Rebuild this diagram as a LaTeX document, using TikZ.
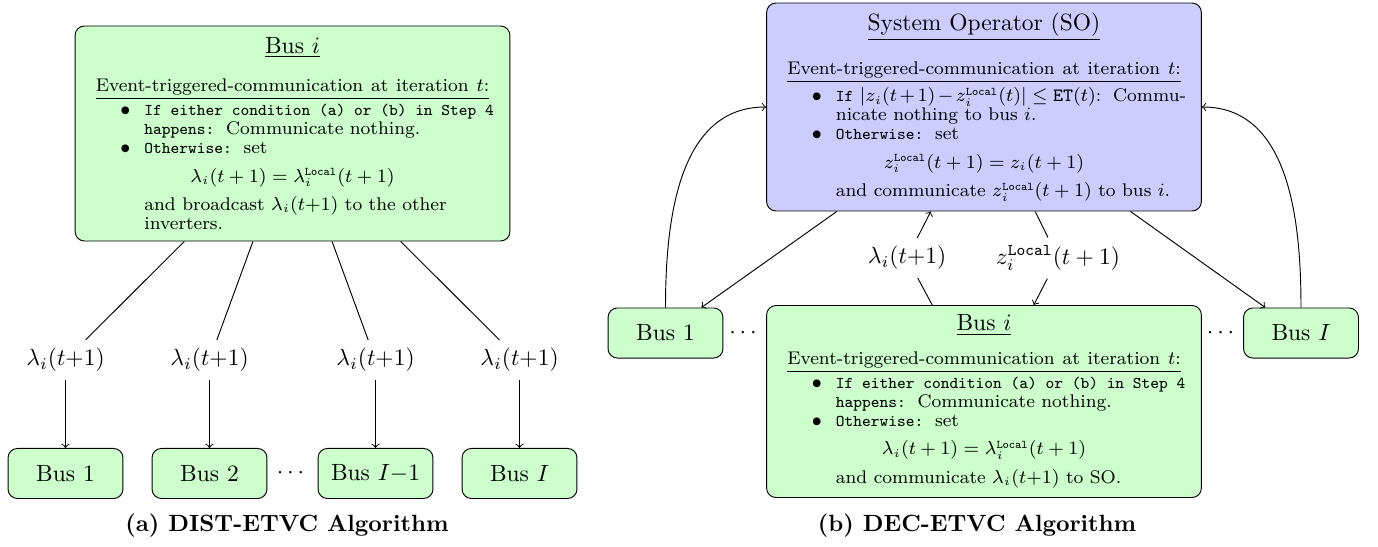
\documentclass[tikz,border=0pt]{standalone}
\usepackage{amsmath}
\usepackage{enumitem}
\usepackage{ragged2e}
\usetikzlibrary{positioning}
\newcommand{\bodyfont}{\fontsize{7.8}{8.1}\selectfont\hyphenpenalty=10000\relax}
\newcommand{\ttw}[1]{{\fontencoding{OT1}\fontfamily{cmtt}\fontsize{6.8}{8.1}\selectfont #1}}
\newcommand{\loc}{\mathtt{Local}}
\newcommand{\boxeq}[1]{\par\vspace{4pt}\noindent\makebox[\linewidth]{\hspace{-\leftmargin}$#1$}\par\vspace{4pt}}
\setlist[itemize]{label=$\bullet$,leftmargin=23pt,labelsep=6pt,itemsep=0pt,parsep=0pt,topsep=1pt,partopsep=0pt}
\tikzset{
  busbox/.style={
    rounded corners=4pt,
    draw,
    fill=green!20,
    text width=172pt,
    inner xsep=6.5pt,
    inner ysep=2pt,
    minimum width=185pt
  },
  sobox/.style={
    busbox,
    fill=blue!20
  },
  smallbus/.style={
    rounded corners=4pt,
    draw,
    fill=green!20,
    minimum width=48.9pt,
    minimum height=21.3pt
  },
  msg/.style={inner sep=3.33pt}
}
\begin{document}
\begin{tikzpicture}[x=0.4255pt,y=-0.4255pt]
\useasboundingbox (0,0) rectangle (1378,546);
\node[busbox, minimum height=91.5pt] (dbus) at (292.5,133.5) {%
  \centering\underline{Bus $i$}\par\vspace{8pt}
  \bodyfont\underline{Event-triggered-communication at iteration $t$:}\par
  \RaggedRight
  \begin{itemize}
    \item \ttw{If either condition (a) or (b) in Step 4 happens:} Communicate nothing.
    \item \ttw{Otherwise:} set
      \boxeq{\lambda_i(t+1)=\lambda_i^{\loc}(t+1)}
      and broadcast $\lambda_i(t{+}1)$ to the other inverters.
  \end{itemize}};
\node[msg] (l1) at (65.5,360) {$\lambda_i(t{+}1)$};
\node[msg] (l2) at (209.5,360) {$\lambda_i(t{+}1)$};
\node[msg] (l3) at (375.5,360) {$\lambda_i(t{+}1)$};
\node[msg] (l4) at (519.5,360) {$\lambda_i(t{+}1)$};
\node[smallbus, below=28.9pt of l1] (b1) {Bus 1};
\node[smallbus, below=28.9pt of l2] (b2) {Bus 2};
\node[smallbus, below=28.9pt of l3] (b3) {Bus $I{-}1$};
\node[smallbus, below=28.9pt of l4] (b4) {Bus $I$};
\node (dots) at (292.5,473) {$\cdots$};
\draw (dbus) -- (l1);
\draw (dbus) -- (l2);
\draw (dbus) -- (l3);
\draw (dbus) -- (l4);
\draw[->] (l1) -- (b1);
\draw[->] (l2) -- (b2);
\draw[->] (l3) -- (b3);
\draw[->] (l4) -- (b4);
\node (capa) at (287,526) {\textbf{(a) DIST-ETVC Algorithm}};

\node[sobox, minimum height=88.5pt] (so) at (984,107) {%
  \centering\underline{System Operator (SO)}\par\vspace{8pt}
  \bodyfont\underline{Event-triggered-communication at iteration $t$:}\par
  \RaggedRight
  \begin{itemize}
    \item \ttw{If} $|z_i(t+1)-z_i^{\loc}(t)|\le\mathtt{ET}(t)$: Commu-\\nicate nothing to bus $i$.
    \item \ttw{Otherwise:} set
      \boxeq{z_i^{\loc}(t+1)=z_i(t+1)}
      and communicate $z_i^{\loc}(t+1)$ to bus $i$.
  \end{itemize}};
\node[busbox, minimum height=81.7pt] (bi) at (984,401.5) {%
  \centering\underline{Bus $i$}\par\vspace{6pt}
  \bodyfont\underline{Event-triggered-communication at iteration $t$:}\par
  \RaggedRight
  \begin{itemize}
    \item \ttw{If either condition (a) or (b) in Step 4 happens:} Communicate nothing.
    \item \ttw{Otherwise:} set
      \boxeq{\lambda_i(t+1)=\lambda_i^{\loc}(t+1)}
      and communicate $\lambda_i(t{+}1)$ to SO.
  \end{itemize}};
\node[smallbus] (rb1) at (665.5,333) {Bus 1};
\node[smallbus] (rbI) at (1301,333) {Bus $I$};
\node (rd1) at (745,333) {$\cdots$};
\node (rd2) at (1222.5,333) {$\cdots$};
\node[msg] (lam) at (907,258) {$\lambda_i(t{+}1)$};
\node[msg] (zl) at (1058,258) {$z_i^{\loc}(t+1)$};
\draw[->] (so) -- (rb1);
\draw[->] (so) -- (rbI);
\draw[->] (rb1) to[out=90,in=180] (so);
\draw[->] (rbI) to[out=90,in=0] (so);
\draw (bi) -- (lam);
\draw[->] (lam) -- (so);
\draw (so) -- (zl);
\draw[->] (zl) -- (bi);
\node (capb) at (977,526) {\textbf{(b) DEC-ETVC Algorithm}};
\end{tikzpicture}
\end{document}
